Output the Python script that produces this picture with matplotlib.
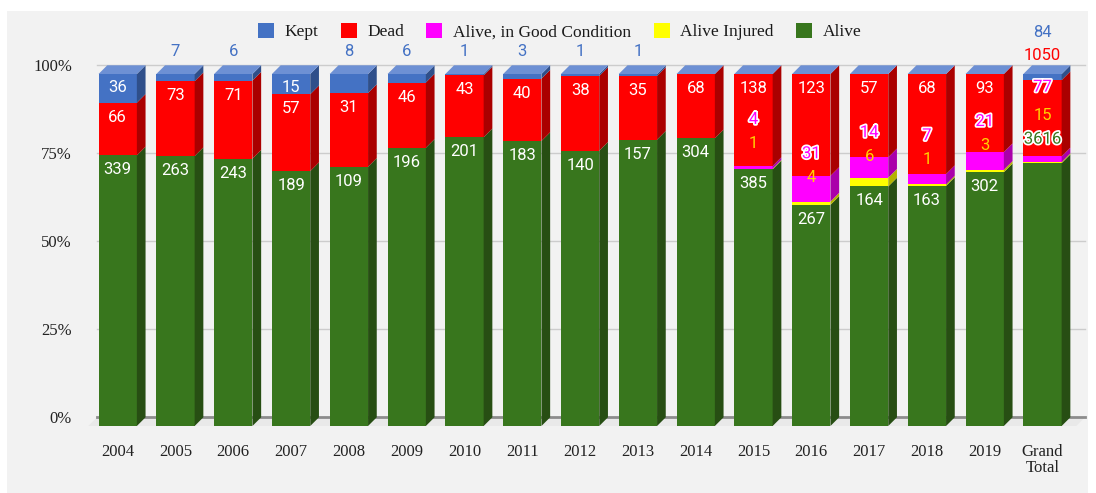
import matplotlib
matplotlib.use('Agg')
import matplotlib.pyplot as plt
from matplotlib.patches import Polygon, Patch, Rectangle
import matplotlib.patheffects as pe

categories = ['2004', '2005', '2006', '2007', '2008', '2009', '2010', '2011', '2012',
              '2013', '2014', '2015', '2016', '2017', '2018', '2019', 'Grand\nTotal']
alive = [339, 263, 243, 189, 109, 196, 201, 183, 140, 157, 304, 385, 267, 164, 163, 302, 3616]
alive_injured = [0, 0, 0, 0, 0, 0, 0, 0, 0, 0, 0, 1, 4, 6, 1, 3, 15]
alive_good = [0, 0, 0, 0, 0, 0, 0, 0, 0, 0, 0, 4, 31, 14, 7, 21, 77]
dead = [66, 73, 71, 57, 31, 46, 43, 40, 38, 35, 68, 138, 123, 57, 68, 93, 1050]
kept = [36, 7, 6, 15, 8, 6, 1, 3, 1, 1, 0, 0, 0, 0, 0, 0, 84]
ytick_vals = [0, 25, 50, 75, 100]
ytick_labels = ['0%', '25%', '50%', '75%', '100%']
legend_labels = ['Kept', 'Dead', 'Alive, in Good Condition', 'Alive Injured', 'Alive']

# colours (front, side)
C_GREEN = ('#38761d', '#274e13')
C_YELLOW = ('#ffff00', '#b3b300')
C_MAG = ('#ff00ff', '#aa00aa')
C_RED = ('#ff0000', '#aa0000')
C_BLUE = ('#4472c4', '#2f4f8a')
C_TOP = '#6d90d4'
C_YLAB = '#ffd200'

W, H = 1096, 493
fig = plt.figure(figsize=(W / 100, H / 100), dpi=100, facecolor='white')
fig.patches.append(Rectangle((7 / W, 0), (1088 - 7) / W, (H - 11) / H,
                             transform=fig.transFigure, facecolor='#f2f2f2',
                             edgecolor='none', zorder=-10))

# geometry (pixels)
Y0_PX = 417.3      # 0% line (back)
PXPU = 3.52        # pixels per percent
STEP = 57.8        # pixels per category
X_LEFT, X_RIGHT = 97, 1085
DEPTH = 8.7
BAR_W_PX = 38.3

n = len(categories)
first_back_center = 126.4
xlim0 = -(first_back_center - X_LEFT) / STEP
xlim1 = xlim0 + (X_RIGHT - X_LEFT) / STEP
dxd = DEPTH / STEP
dyd = DEPTH / PXPU
bw = BAR_W_PX / STEP
ymin, ymax = -dyd, 110
bottom_px = Y0_PX - PXPU * ymin
top_px = Y0_PX - PXPU * ymax

ax = fig.add_axes([X_LEFT / W, (H - bottom_px) / H, (X_RIGHT - X_LEFT) / W,
                   (bottom_px - top_px) / H])
ax.set_zorder(1)
ax.set_xlim(xlim0, xlim1)
ax.set_ylim(ymin, ymax)
ax.set_facecolor('none')
ax.patch.set_alpha(0)
for s in ax.spines.values():
    s.set_visible(False)

# floor and gridlines
ax.add_patch(Polygon([(xlim0, 0), (xlim1, 0), (xlim1 - dxd, -dyd), (xlim0 - dxd, -dyd)],
                     closed=True, facecolor='#e9e9e9', edgecolor='none', zorder=1, clip_on=False))
for v in ytick_vals[1:]:
    ax.plot([xlim0, xlim1], [v, v], color='#cccccc', lw=1, zorder=1.5, clip_on=False)
ax.plot([xlim0, xlim1], [0, 0], color='#8c8c8c', lw=2, zorder=1.5, clip_on=False)

PT = 0.72  # px -> pt
lab_font = dict(family=['Roboto', 'DejaVu Sans'], fontsize=12, ha='center', va='center')
stroke = [pe.withStroke(linewidth=2.5, foreground='white')]

def ann(text, x, y, dy_px, color, effects=None):
    t = ax.annotate(text, xy=(x, y), xytext=(0, dy_px * PT), textcoords='offset points',
                    color=color, annotation_clip=False, zorder=10, **lab_font)
    if effects:
        t.set_path_effects(effects)
    return t

front_centers = []
for i in range(n):
    total = alive[i] + alive_injured[i] + alive_good[i] + dead[i] + kept[i]
    vals = [alive[i], alive_injured[i], alive_good[i], dead[i], kept[i]]
    cols = [C_GREEN, C_YELLOW, C_MAG, C_RED, C_BLUE]
    fc = i - dxd
    front_centers.append(fc)
    cum = 0.0
    tops = []
    for v, (cf, cs) in zip(vals, cols):
        p = v / total * 100
        a, b = cum, cum + p
        tops.append(b)
        if p > 0:
            ax.bar(fc, p, width=bw, bottom=a - dyd, color=cf, edgecolor='none',
                   zorder=3, clip_on=False)
            ax.add_patch(Polygon([(fc + bw / 2, a - dyd), (i + bw / 2, a), (i + bw / 2, b),
                                  (fc + bw / 2, b - dyd)], closed=True, facecolor=cs,
                                 edgecolor='none', zorder=3, clip_on=False))
        cum = b
    # top face
    ax.add_patch(Polygon([(fc - bw / 2, 100 - dyd), (fc + bw / 2, 100 - dyd),
                          (i + bw / 2, 100), (i - bw / 2, 100)], closed=True,
                         facecolor=C_TOP, edgecolor='none', zorder=3, clip_on=False))

    t_alive, t_inj, t_good, t_dead, t_kept = [t - dyd for t in tops]
    is_total = categories[i].startswith('Grand')
    if not is_total:
        ann(str(alive[i]), fc, t_alive, -14.5, 'white')
        ann(str(dead[i]), fc, t_dead, -14.5, 'white')
        if kept[i] >= 10:
            ann(str(kept[i]), fc, t_kept, -13, 'white')
        elif kept[i] > 0:
            ann(str(kept[i]), fc, 100, 14.3, C_BLUE[0])
        if alive_injured[i] > 0:
            inj_center = (t_alive + t_inj) / 2
            ann(str(alive_injured[i]), fc, inj_center, 26, C_YLAB)
            ann(str(alive_good[i]), fc, inj_center, 26 + 23.5, C_MAG[0], stroke)
    else:
        ann(str(alive[i]), fc, t_alive, 24, C_GREEN[0], stroke)
        ann(str(alive_injured[i]), fc, t_alive, 48, C_YLAB)
        ann(str(alive_good[i]), fc, t_alive, 76, C_MAG[0], stroke)
        ann(str(dead[i]), fc, 100, 10.3, C_RED[0])
        ann(str(kept[i]), fc, 100, 33.3, C_BLUE[0])

# axes ticks
serif = ['Liberation Serif', 'DejaVu Serif']
ax.set_yticks(ytick_vals)
ax.set_yticklabels(ytick_labels, family=serif, fontsize=12, color='#222222')
ax.set_xticks(front_centers)
ax.set_xticklabels(categories, family=serif, fontsize=12, color='#222222', linespacing=1.0)
ax.tick_params(axis='y', length=0, pad=18)
ax.tick_params(axis='x', length=0, pad=13)

handles = [Patch(facecolor=c[0], edgecolor='none') for c in [C_BLUE, C_RED, C_MAG, C_YELLOW, C_GREEN]]
fig.legend(handles, legend_labels, loc='center', bbox_to_anchor=(559.5 / W, 1 - 31.6 / H),
           ncol=5, frameon=False, prop={'family': serif, 'size': 12.5},
           handlelength=0.92, handleheight=0.92, handletextpad=0.6, columnspacing=1.3,
           labelcolor='#1a1a1a')

fig.savefig('out.png', dpi=100, facecolor='white')
